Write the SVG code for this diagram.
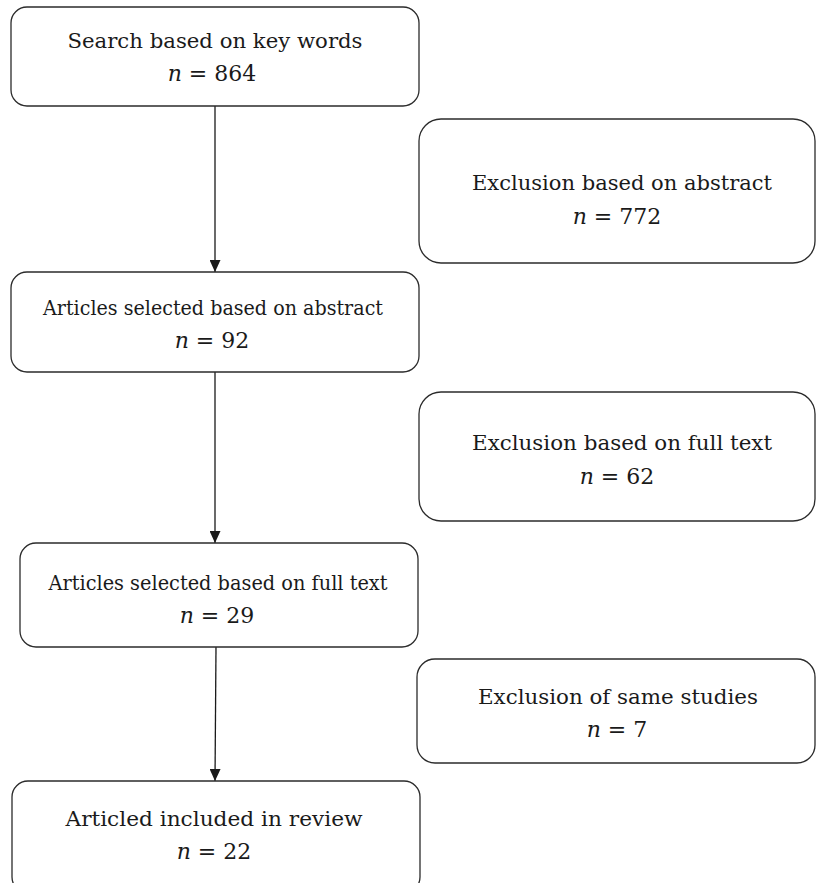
<svg xmlns="http://www.w3.org/2000/svg" width="816" height="883" viewBox="0 0 816 883">
<defs>
<style>
.box{fill:#fff;stroke:#2b2b2b;stroke-width:1.3}
.t{font-family:"DejaVu Serif","Liberation Serif",serif;font-size:20px;fill:#1a1a1a;text-anchor:middle}
.v{font-size:22px}
.n{font-style:italic}
.c{stroke:#1a1a1a;stroke-width:1.3;fill:none}
</style>
<marker id="ah" markerWidth="12" markerHeight="11" refX="12" refY="5.5" orient="auto" markerUnits="userSpaceOnUse" viewBox="0 0 12 11">
<path d="M0,0 L12,5.5 L0,11 Z" fill="#1a1a1a"/>
</marker>
</defs>
<rect width="816" height="883" fill="#fff"/>
<g id="connectors">
<line class="c" x1="215" y1="106" x2="215" y2="272" marker-end="url(#ah)"/>
<line class="c" x1="215" y1="372" x2="215" y2="543" marker-end="url(#ah)"/>
<line class="c" x1="216" y1="647" x2="215" y2="781" marker-end="url(#ah)"/>
</g>
<g id="n1"><rect class="box" x="11" y="7" width="408" height="99" rx="16"/>
<text class="t" x="215" y="48" textLength="295" lengthAdjust="spacingAndGlyphs">Search based on key words</text>
<text class="t v" x="212" y="81"><tspan class="n">n</tspan> = 864</text></g>
<g id="n2"><rect class="box" x="419" y="119" width="396" height="144" rx="22"/>
<text class="t" x="622" y="190" textLength="300" lengthAdjust="spacingAndGlyphs">Exclusion based on abstract</text>
<text class="t v" x="617" y="224"><tspan class="n">n</tspan> = 772</text></g>
<g id="n3"><rect class="box" x="11" y="272" width="408" height="100" rx="16"/>
<text class="t" x="213" y="315" textLength="340" lengthAdjust="spacingAndGlyphs">Articles selected based on abstract</text>
<text class="t v" x="212" y="348"><tspan class="n">n</tspan> = 92</text></g>
<g id="n4"><rect class="box" x="419" y="392" width="396" height="129" rx="22"/>
<text class="t" x="622" y="450" textLength="300" lengthAdjust="spacingAndGlyphs">Exclusion based on full text</text>
<text class="t v" x="617" y="484"><tspan class="n">n</tspan> = 62</text></g>
<g id="n5"><rect class="box" x="20" y="543" width="398" height="104" rx="16"/>
<text class="t" x="218" y="590" textLength="339" lengthAdjust="spacingAndGlyphs">Articles selected based on full text</text>
<text class="t v" x="217" y="623"><tspan class="n">n</tspan> = 29</text></g>
<g id="n6"><rect class="box" x="417" y="659" width="398" height="104" rx="18"/>
<text class="t" x="618" y="704" textLength="280" lengthAdjust="spacingAndGlyphs">Exclusion of same studies</text>
<text class="t v" x="617" y="737"><tspan class="n">n</tspan> = 7</text></g>
<g id="n7"><rect class="box" x="12" y="781" width="408" height="112" rx="16"/>
<text class="t" x="214" y="826" textLength="297" lengthAdjust="spacingAndGlyphs">Articled included in review</text>
<text class="t v" x="214" y="859"><tspan class="n">n</tspan> = 22</text></g>
</svg>
